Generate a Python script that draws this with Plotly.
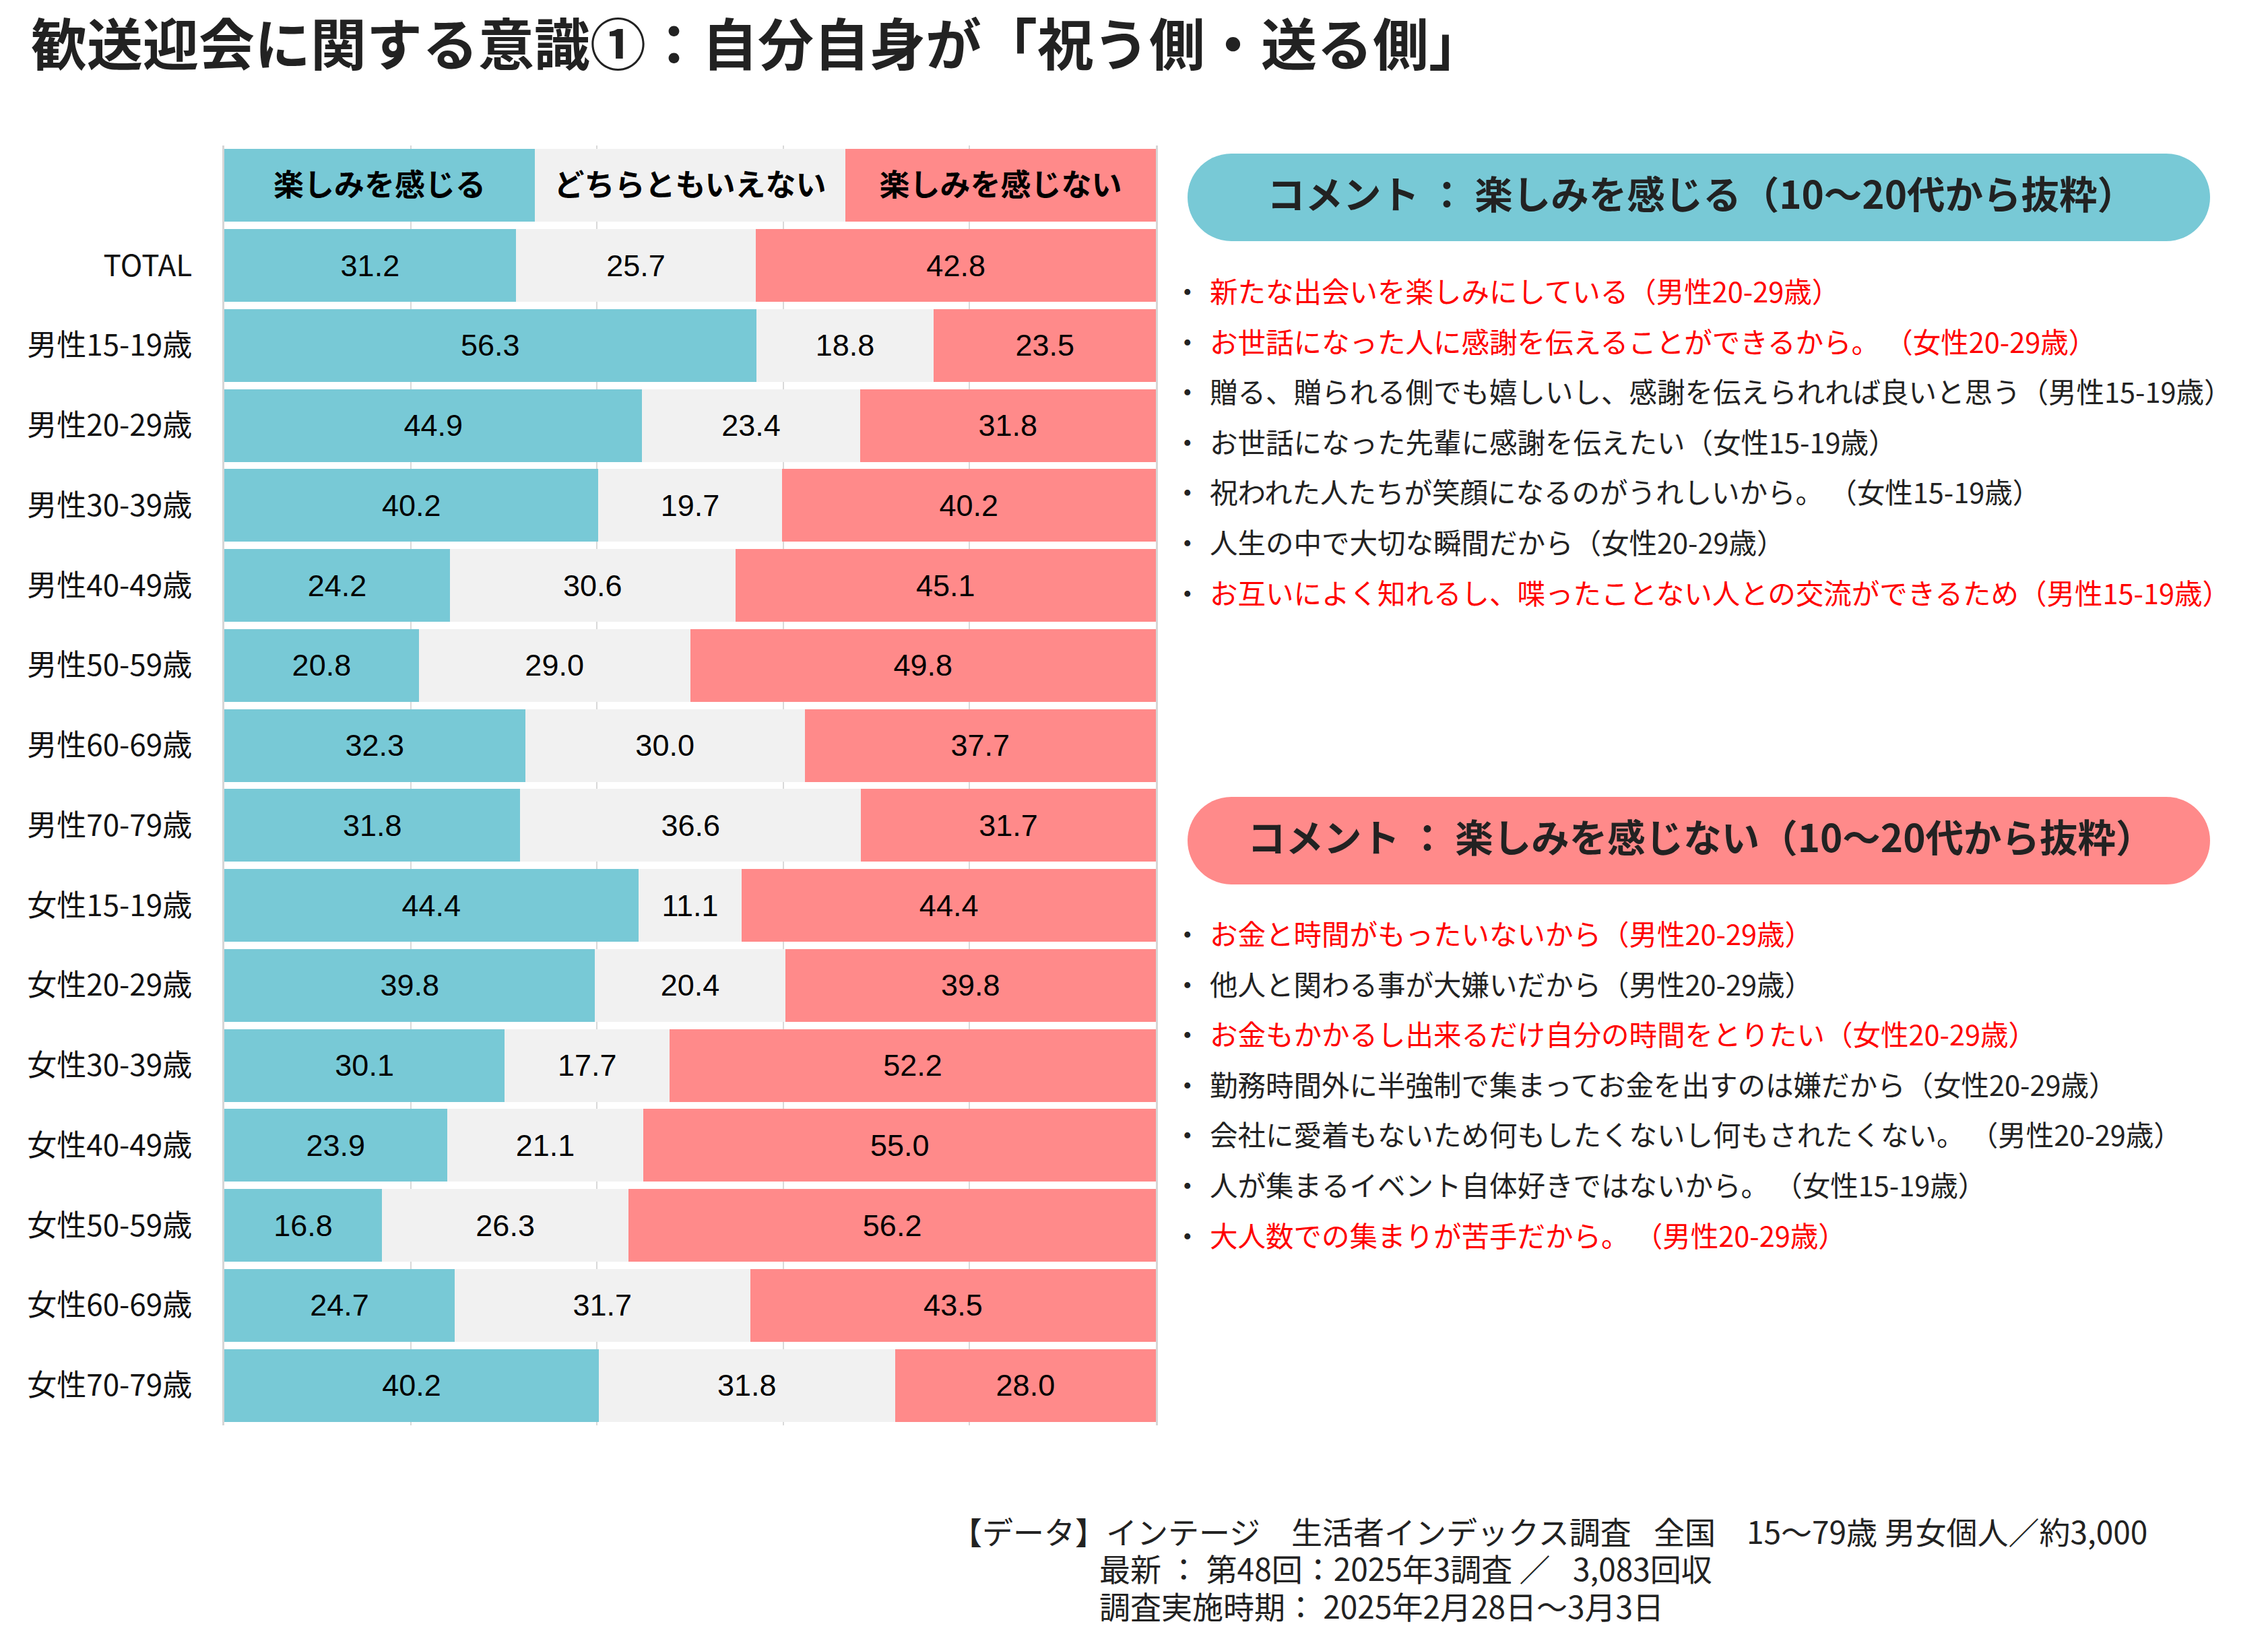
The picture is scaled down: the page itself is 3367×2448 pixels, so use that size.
import plotly.graph_objects as go

# ---------------- data ----------------
categories = ["TOTAL", "男性15-19歳", "男性20-29歳", "男性30-39歳", "男性40-49歳",
              "男性50-59歳", "男性60-69歳", "男性70-79歳", "女性15-19歳", "女性20-29歳",
              "女性30-39歳", "女性40-49歳", "女性50-59歳", "女性60-69歳", "女性70-79歳"]
enjoy = [31.2, 56.3, 44.9, 40.2, 24.2, 20.8, 32.3, 31.8, 44.4, 39.8, 30.1, 23.9, 16.8, 24.7, 40.2]
neutral = [25.7, 18.8, 23.4, 19.7, 30.6, 29.0, 30.0, 36.6, 11.1, 20.4, 17.7, 21.1, 26.3, 31.7, 31.8]
not_enjoy = [42.8, 23.5, 31.8, 40.2, 45.1, 49.8, 37.7, 31.7, 44.4, 39.8, 52.2, 55.0, 56.2, 43.5, 28.0]
series_names = ["楽しみを感じる", "どちらともいえない", "楽しみを感じない"]
header_weights = [1, 1, 1]  # header row: equal thirds (100% stacked)

title_text = "歓送迎会に関する意識①：自分自身が「祝う側・送る側」"
pos_heading = "コメント ： 楽しみを感じる（10～20代から抜粋）"
neg_heading = "コメント ： 楽しみを感じない（10～20代から抜粋）"
pos_comments = [
    "新たな出会いを楽しみにしている（男性20-29歳）",
    "お世話になった人に感謝を伝えることができるから。\u2009（女性20-29歳）",
    "贈る、贈られる側でも嬉しいし、感謝を伝えられれば良いと思う（男性15-19歳）",
    "お世話になった先輩に感謝を伝えたい（女性15-19歳）",
    "祝われた人たちが笑顔になるのがうれしいから。\u2009（女性15-19歳）",
    "人生の中で大切な瞬間だから（女性20-29歳）",
    "お互いによく知れるし、喋ったことない人との交流ができるため（男性15-19歳）",
]
pos_highlight = [True, True, False, False, False, False, True]
neg_comments = [
    "お金と時間がもったいないから（男性20-29歳）",
    "他人と関わる事が大嫌いだから（男性20-29歳）",
    "お金もかかるし出来るだけ自分の時間をとりたい（女性20-29歳）",
    "勤務時間外に半強制で集まってお金を出すのは嫌だから（女性20-29歳）",
    "会社に愛着もないため何もしたくないし何もされたくない。\u2009（男性20-29歳）",
    "人が集まるイベント自体好きではないから。\u2009（女性15-19歳）",
    "大人数での集まりが苦手だから。\u2009（男性20-29歳）",
]
neg_highlight = [True, False, True, False, False, False, True]
footer_lines = [
    "【データ】インテージ　生活者インデックス調査 \u2002全国　15～79歳 男女個人／約3,000",
    "最新 ： 第48回：2025年3調査 ／\u2002 3,083回収",
    "調査実施時期： 2025年2月28日～3月3日",
]

# ---------------- styles ----------------
W, H = 3367, 2448
TEAL = "#78C9D6"
GRAY = "#F1F1F1"
SALMON = "#FF8A8A"
RED = "#FF0000"
DARK = "#222222"
JP = "Noto Sans CJK JP"
NUM = "Liberation Sans, Noto Sans CJK JP"
colors = [TEAL, GRAY, SALMON]


def px(x):
    return x / W


def py(y):
    return 1 - y / H


HEADER_KEY = "__header__"
y_cats = [HEADER_KEY] + categories

fig = go.Figure()
for i, (name, vals) in enumerate(zip(series_names, [enjoy, neutral, not_enjoy])):
    xs = [header_weights[i]] + vals
    texts = ["<b>" + name + "</b>"] + [f"{v:.1f}" for v in vals]
    fig.add_trace(go.Bar(
        y=y_cats, x=xs, orientation="h", name=name,
        marker=dict(color=colors[i], line=dict(width=0)),
        text=texts, textposition="inside", insidetextanchor="middle",
        textangle=0, constraintext="none",
        textfont=dict(family=NUM, size=45, color="#000000"),
        hoverinfo="skip",
    ))

fig.update_layout(
    width=W, height=H,
    margin=dict(l=0, r=0, t=0, b=0),
    paper_bgcolor="white", plot_bgcolor="white",
    barmode="stack", barnorm="percent", bargap=0.09,
    showlegend=False,
    uniformtext=dict(minsize=45, mode="show"),
    xaxis=dict(domain=[px(333), px(1716)], range=[0, 100], showticklabels=False,
               showgrid=True, gridcolor="#D9D9D9", gridwidth=2, dtick=20, tick0=0,
               zeroline=False, showline=False, ticks=""),
    yaxis=dict(domain=[py(2116), py(216)], type="category",
               categoryorder="array", categoryarray=y_cats, autorange="reversed",
               tickvals=y_cats, ticktext=[""] + categories,
               tickfont=dict(family=JP, size=44, color="#111111"),
               ticks="", ticklabelstandoff=36,
               showgrid=False, zeroline=False,
               showline=True, mirror=True, linecolor="#D6D6D6", linewidth=3),
)

# ---------------- comment boxes ----------------
def stadium(x0, y0, x1, y1):
    r = (y1 - y0) / 2
    k = 0.5523 * r
    ym = (y0 + y1) / 2

    def p(x, y):
        return f"{px(x):.6f},{py(y):.6f}"
    return (f"M{p(x0 + r, y0)} L{p(x1 - r, y0)} "
            f"C{p(x1 - r + k, y0)} {p(x1, ym - k)} {p(x1, ym)} "
            f"C{p(x1, ym + k)} {p(x1 - r + k, y1)} {p(x1 - r, y1)} "
            f"L{p(x0 + r, y1)} "
            f"C{p(x0 + r - k, y1)} {p(x0, ym + k)} {p(x0, ym)} "
            f"C{p(x0, ym - k)} {p(x0 + r - k, y0)} {p(x0 + r, y0)} Z")


box_specs = [(228, 358, TEAL, pos_heading), (1183, 1313, SALMON, neg_heading)]
for (y0, y1, col, heading) in box_specs:
    fig.add_shape(type="path", path=stadium(1763, y0, 3281, y1), xref="paper", yref="paper",
                  fillcolor=col, line=dict(width=0), layer="below")
    fig.add_annotation(x=px(2525), y=py((y0 + y1) / 2 - 8), xref="paper", yref="paper",
                       text="<b>" + heading + "</b>", showarrow=False,
                       xanchor="center", yanchor="middle",
                       font=dict(family=JP, size=56.5, color=DARK))


def add_comments(lines, flags, y_start, step=74.6):
    for j, (t, hl) in enumerate(zip(lines, flags)):
        yy = y_start + j * step
        fig.add_annotation(x=px(1740), y=py(yy), xref="paper", yref="paper", text="・",
                           showarrow=False, xanchor="left", yanchor="middle",
                           font=dict(family=JP, size=41.5, color=DARK))
        fig.add_annotation(x=px(1794), y=py(yy), xref="paper", yref="paper", text=t,
                           showarrow=False, xanchor="left", yanchor="middle",
                           font=dict(family=JP, size=41.5, color=RED if hl else DARK))


add_comments(pos_comments, pos_highlight, 431)
add_comments(neg_comments, neg_highlight, 1385)

# ---------------- title & footer ----------------
fig.add_annotation(x=px(44), y=py(61), xref="paper", yref="paper",
                   text="<b>" + title_text + "</b>", showarrow=False,
                   xanchor="left", yanchor="middle",
                   font=dict(family=JP, size=83, color=DARK))

footer_x = [1410, 1630, 1630]
footer_y = [2272, 2327, 2383]
for t, fx, fy in zip(footer_lines, footer_x, footer_y):
    fig.add_annotation(x=px(fx), y=py(fy), xref="paper", yref="paper", text=t,
                       showarrow=False, xanchor="left", yanchor="middle",
                       font=dict(family=JP, size=46, color=DARK))

fig.write_html("out.html")
